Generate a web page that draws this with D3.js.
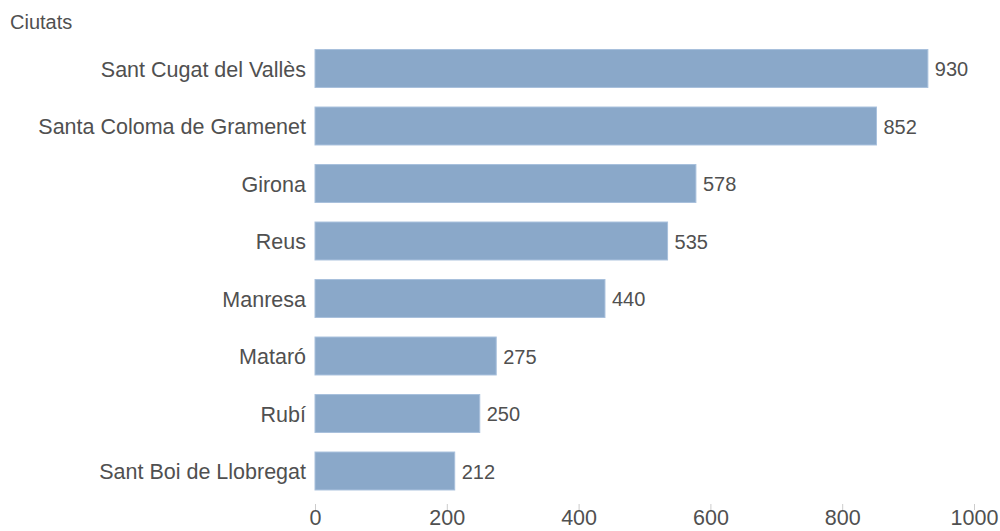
<!DOCTYPE html>
<html lang="ca">
<head>
  <meta charset="UTF-8">
  <title>Ciutats</title>
  <script src="https://cdn.jsdelivr.net/npm/d3@7"></script>
  <style>
    body { margin: 0; background: #fff; }
    svg { display: block; }
    text { font-family: "Liberation Sans", Arial, sans-serif; }
  </style>
</head>
<body>
  <script>
    const cities = ["Sant Cugat del Vallès", "Santa Coloma de Gramenet", "Girona", "Reus",
                    "Manresa", "Mataró", "Rubí", "Sant Boi de Llobregat"];
    const values = [930, 852, 578, 535, 440, 275, 250, 212];
    const ticks = [0, 200, 400, 600, 800, 1000];

    const width = 1000, height = 531;
    const fs = 21.5;

    const svg = d3.select("body").append("svg")
      .attr("width", width)
      .attr("height", height);

    const x = d3.scaleLinear().domain([0, 1000]).range([315, 974]);
    const y = d3.scaleBand().domain(cities).range([39.75, 499.75]).paddingInner(0.34).paddingOuter(0.17);

    svg.append("text")
      .attr("x", 10).attr("y", 29)
      .attr("font-size", 20)
      .attr("fill", "#505050")
      .text("Ciutats");

    // bars
    svg.selectAll("rect.bar")
      .data(cities)
      .enter().append("rect")
      .attr("class", "bar")
      .attr("x", x(0))
      .attr("y", d => y(d))
      .attr("width", (d, i) => x(values[i]) - x(0))
      .attr("height", y.bandwidth())
      .attr("fill", "#8aa8c9")
      .attr("stroke", "#a8c0dc")
      .attr("stroke-width", 1);

    // category labels
    svg.selectAll("text.cat")
      .data(cities)
      .enter().append("text")
      .attr("class", "cat")
      .attr("x", x(0) - 9)
      .attr("y", d => y(d) + y.bandwidth() / 2)
      .attr("dy", "0.38em")
      .attr("text-anchor", "end")
      .attr("font-size", fs)
      .attr("fill", "#505050")
      .text(d => d);

    // value labels
    svg.selectAll("text.val")
      .data(cities)
      .enter().append("text")
      .attr("class", "val")
      .attr("x", (d, i) => x(values[i]) + 7)
      .attr("y", d => y(d) + y.bandwidth() / 2)
      .attr("dy", "0.38em")
      .attr("font-size", 20)
      .attr("fill", "#505050")
      .text((d, i) => values[i]);

    // x axis
    const axis = svg.append("g")
      .attr("transform", "translate(0,504)")
      .call(d3.axisBottom(x).tickValues(ticks).tickFormat(d3.format("d")).tickSize(6).tickPadding(0));
    axis.select(".domain").remove();
    axis.selectAll(".tick line").attr("stroke", "#ccc");
    axis.selectAll(".tick text")
      .attr("font-size", fs)
      .attr("fill", "#505050")
      .attr("font-family", "Liberation Sans, Arial, sans-serif");
  </script>
</body>
</html>
